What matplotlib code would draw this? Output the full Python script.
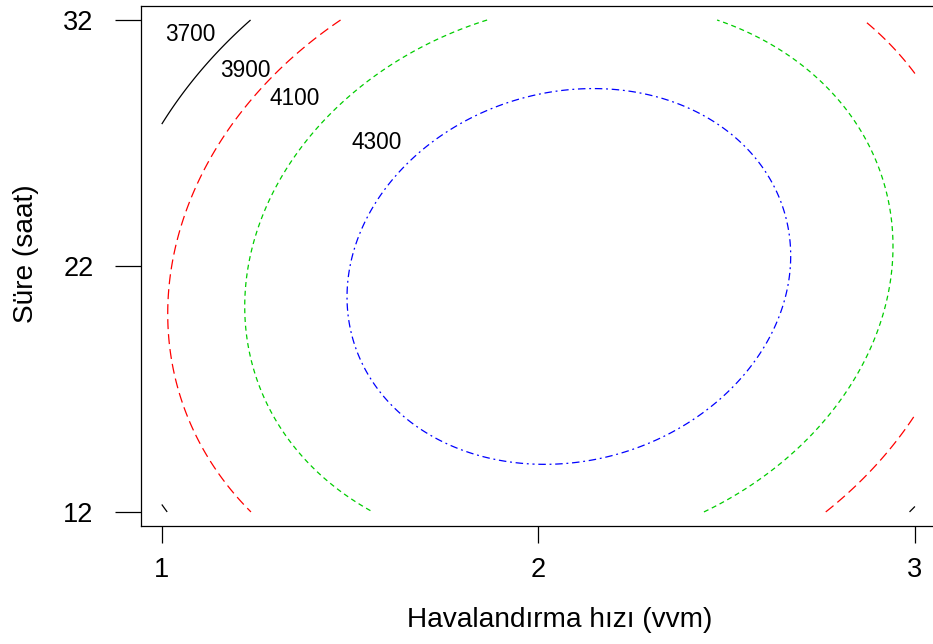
import numpy as np
import matplotlib
matplotlib.use("Agg")
import matplotlib.pyplot as plt

plt.rcParams['font.family'] = ['Liberation Sans', 'DejaVu Sans']

# Axis ranges (natural units)
x_range = [1.0, 3.0]      # Havalandırma hızı (vvm)
y_range = [12.0, 32.0]    # Süre (saat)
x_ticks = [1, 2, 3]
y_ticks = [12, 22, 32]

# Fitted second-order response surface coefficients (coded units:
# X = (x - 2) / 1, Y = (y - 22) / 10), read off the contour shape
b0 = 4472.0
bX = 87.0
bY = -33.1
bXX = -514.0
bYY = -305.7
bXY = 87.0

levels = [3700, 3900, 4100, 4300]
level_colors = ["#000000", "#FF0000", "#00CD00", "#0000FF"]
level_styles = ["-", (0, (8, 4)), (0, (4, 3)), (0, (1.5, 3, 6, 3))]
label_text = ["3700", "3900", "4100", "4300"]
label_x = [1.077, 1.223, 1.354, 1.572]
label_y = [31.43, 29.93, 28.79, 27.04]

xs = np.linspace(x_range[0], x_range[1], 401)
ys = np.linspace(y_range[0], y_range[1], 401)
XX, YY = np.meshgrid(xs, ys)
Xc = (XX - 2.0) / 1.0
Yc = (YY - 22.0) / 10.0
Z = b0 + bX * Xc + bY * Yc + bXX * Xc**2 + bYY * Yc**2 + bXY * Xc * Yc

fig = plt.figure(figsize=(9.33, 6.44), dpi=100)
ax = fig.add_axes([140.7 / 933, 118.3 / 644, 795.3 / 933, 519.7 / 644])

for lev, col, ls in zip(levels, level_colors, level_styles):
    ax.contour(XX, YY, Z, levels=[lev], colors=[col], linewidths=0.9, linestyles=[ls])

for t, lx, ly in zip(label_text, label_x, label_y):
    ax.text(lx, ly, t, fontsize=16.3, ha="center", va="center", color="black")

ax.set_xlim(0.944, 3.056)
ax.set_ylim(11.44, 32.57)
ax.set_xticks(x_ticks)
ax.set_yticks(y_ticks)
ax.set_xticklabels([str(v) for v in x_ticks])
ax.set_yticklabels([str(v) for v in y_ticks])
ax.tick_params(axis="x", direction="out", length=12.5, width=0.9, pad=10, labelsize=19.5, colors="black")
ax.tick_params(axis="y", direction="out", length=19, width=0.9, pad=15, labelsize=19.5, colors="black")
for sp in ax.spines.values():
    sp.set_linewidth(0.9)
    sp.set_color("black")
ax.spines["right"].set_visible(False)

ax.set_xlabel("Havalandırma hızı (vvm)", fontsize=20.2)
ax.xaxis.set_label_coords((560 - 140.7) / 795.3, (525.7 - 620) / 519.7)
ax.xaxis.label.set_va("center")
ax.set_ylabel("Süre (saat)", fontsize=20.2)
ax.yaxis.set_label_coords((26 - 140.7) / 795.3, (525.7 - 254) / 519.7)
ax.yaxis.label.set_va("center")
ax.yaxis.label.set_ha("center")

fig.savefig("out.png", dpi=100)
